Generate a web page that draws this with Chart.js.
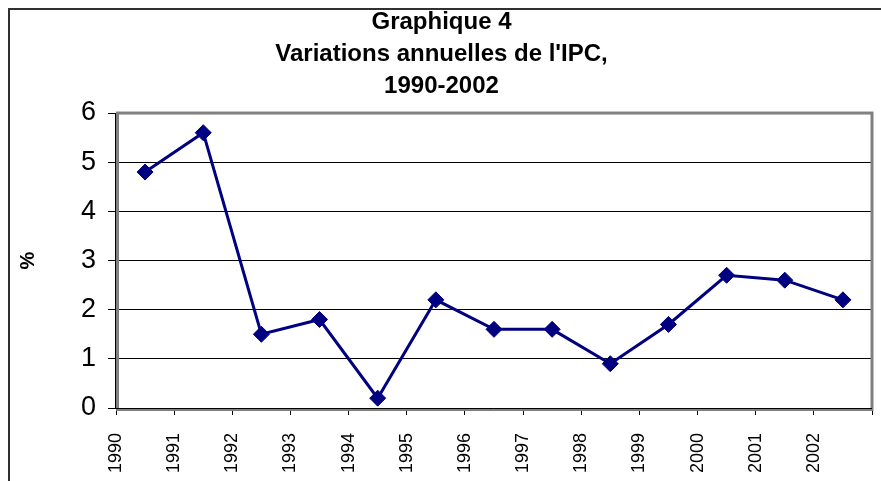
<!DOCTYPE html>
<html><head><meta charset="utf-8">
<script src="https://cdn.jsdelivr.net/npm/chart.js@4/dist/chart.umd.min.js"></script>
<style>html,body{margin:0;padding:0;background:#fff}#wrap{width:881px;height:481px}</style>
</head><body><div id="wrap"><canvas id="c" width="881" height="481"></canvas></div>
<script>
const years = ['1990','1991','1992','1993','1994','1995','1996','1997','1998','1999','2000','2001','2002'];
const cpiChange = [4.8, 5.6, 1.5, 1.8, 0.2, 2.2, 1.6, 1.6, 0.9, 1.7, 2.7, 2.6, 2.2];
const yTicks = [0, 1, 2, 3, 4, 5, 6];
const titleLines = ['Graphique 4', "Variations annuelles de l'IPC,", '1990-2002'];
const yAxisTitle = '%';

const FONT = "'Liberation Sans', Arial, sans-serif";
const points = cpiChange.map((v, i) => ({x: i + 0.5, y: v}));

const framePlugin = {
  id: 'frame',
  beforeDraw(chart) {
    const ctx = chart.ctx;
    ctx.save();
    ctx.fillStyle = '#fff';
    ctx.fillRect(0, 0, chart.width, chart.height);
    ctx.strokeStyle = '#303030';
    ctx.lineWidth = 2;
    ctx.beginPath();
    ctx.moveTo(9, chart.height + 2);
    ctx.lineTo(9, 9);
    ctx.lineTo(chart.width + 2, 9);
    ctx.stroke();
    ctx.restore();
  },
  beforeDatasetsDraw(chart) {
    const a = chart.chartArea, ctx = chart.ctx;
    ctx.save();
    ctx.strokeStyle = '#808080';
    ctx.lineWidth = 3;
    ctx.strokeRect(a.left + 1.5, a.top, a.right - a.left - 1.5, a.bottom + 1.5 - a.top);
    ctx.strokeStyle = '#000';
    ctx.lineWidth = 1;
    ctx.beginPath();
    ctx.moveTo(a.left - 0.5, a.top);
    ctx.lineTo(a.left - 0.5, a.bottom + 0.5);
    ctx.lineTo(a.right, a.bottom + 0.5);
    ctx.stroke();
    ctx.restore();
  }
};

new Chart(document.getElementById('c'), {
  type: 'line',
  data: {
    datasets: [{
      data: points,
      borderColor: '#000080',
      borderWidth: 3,
      backgroundColor: '#000080',
      pointStyle: 'rectRot',
      pointRadius: 8,
      pointBackgroundColor: '#000080',
      pointBorderColor: '#000080',
      pointBorderWidth: 1,
      tension: 0,
      fill: false
    }]
  },
  options: {
    responsive: false,
    animation: false,
    layout: {padding: {left: 10, right: 8, top: 0, bottom: 0}},
    plugins: {
      legend: {display: false},
      tooltip: {enabled: false},
      title: {
        display: true,
        text: titleLines,
        color: '#000',
        font: {family: FONT, size: 24, weight: 'bold', lineHeight: 1.32},
        padding: {top: 7, bottom: 11}
      }
    },
    scales: {
      x: {
        type: 'linear',
        min: 0,
        max: years.length,
        afterFit(s) { s.height = 73; s.paddingLeft = 0; s.paddingRight = 0; },
        border: {display: false},
        grid: {drawOnChartArea: false, drawTicks: true, tickLength: 7, color: '#000', lineWidth: 1},
        ticks: {
          stepSize: 1,
          autoSkip: false,
          minRotation: 90,
          maxRotation: 90,
          padding: 18,
          color: '#000',
          font: {family: FONT, size: 18},
          callback: (v) => (years[v] !== undefined ? years[v] : '')
        }
      },
      y: {
        type: 'linear',
        min: yTicks[0],
        max: yTicks[yTicks.length - 1],
        afterFit(s) { s.width = 106; s.paddingTop = 0; s.paddingBottom = 0; },
        border: {display: false},
        grid: {color: '#000', lineWidth: 1, drawTicks: true, tickLength: 8},
        ticks: {stepSize: 1, padding: 12, color: '#000', font: {family: FONT, size: 27}},
        title: {
          display: true,
          text: yAxisTitle,
          color: '#000',
          font: {family: FONT, size: 20, weight: 'bold'},
          padding: {top: 6, bottom: 0}
        }
      }
    }
  },
  plugins: [framePlugin]
});
</script>
</body></html>
